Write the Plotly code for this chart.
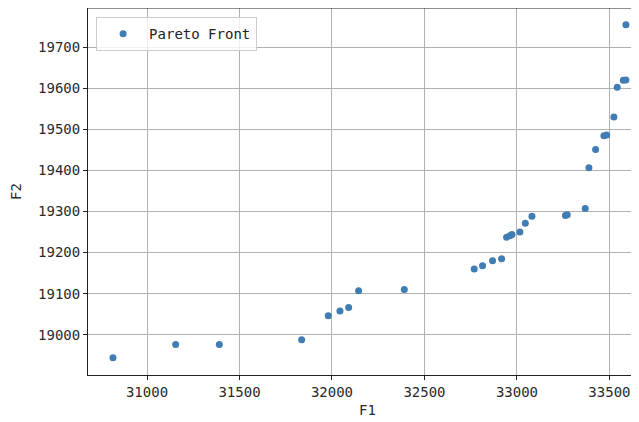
import plotly.graph_objects as go

f1 = [30816, 31155, 31391, 31836, 31980, 32043, 32090, 32144, 32391,
      32769, 32814, 32868, 32917, 32944, 32962, 32973, 33016, 33045, 33081,
      33262, 33272, 33369, 33389, 33425, 33470, 33485, 33524, 33542, 33575, 33589, 33589]
f2 = [18944, 18976, 18976, 18988, 19046, 19058, 19066, 19107, 19110,
      19160, 19168, 19180, 19185, 19237, 19241, 19244, 19250, 19271, 19288,
      19290, 19292, 19307, 19406, 19451, 19484, 19486, 19530, 19602, 19619, 19620, 19754]

font = "DejaVu Sans Mono"

fig = go.Figure()
fig.add_trace(go.Scatter(
    x=f1, y=f2, mode="markers", name="Pareto Front",
    marker=dict(color="#3f7db4", size=7, line=dict(width=0)),
))

axis_common = dict(
    showgrid=True, gridcolor="#b0b0b0", gridwidth=1,
    showline=True, linecolor="#222", linewidth=1,
    ticks="outside", ticklen=4, tickcolor="#222", tickwidth=1,
    zeroline=False, automargin=False, tickformat="d",
    tickfont=dict(family=font, size=14, color="#2a2a2a"),
)

fig.update_layout(
    width=639, height=414,
    margin=dict(l=80, r=0, t=0, b=47),
    paper_bgcolor="white", plot_bgcolor="white",
    showlegend=True,
    legend=dict(
        x=0.0145, y=0.975, xanchor="left", yanchor="top",
        bordercolor="#cccccc", borderwidth=1, bgcolor="rgba(255,255,255,0.8)",
        font=dict(family=font, size=14, color="#222"),
        itemwidth=42, tracegroupgap=0,
    ),
    xaxis=dict(axis_common, range=[30681, 33703], dtick=500, mirror=False,
               title=dict(text="F1", font=dict(family=font, size=14, color="#2a2a2a"), standoff=6)),
    yaxis=dict(axis_common, range=[18902, 19795], dtick=100,
               title=dict(text="F2", font=dict(family=font, size=14, color="#2a2a2a"), standoff=14)),
)
# top spine
fig.add_shape(type="line", xref="paper", yref="paper", x0=0, x1=1, y0=1, y1=1,
              line=dict(color="#222", width=1))

fig.write_html("out.html")
